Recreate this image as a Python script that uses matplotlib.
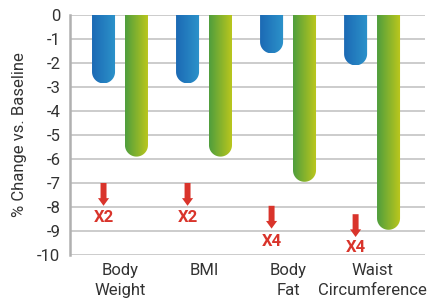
import numpy as np
import matplotlib.pyplot as plt
from matplotlib.path import Path
from matplotlib.patches import PathPatch
from matplotlib.colors import LinearSegmentedColormap

plt.rcParams['font.family'] = ['Roboto', 'DejaVu Sans']

categories = ['Body\nWeight', 'BMI', 'Body\nFat', 'Waist\nCircumference']
blue_vals = [-2.85, -2.85, -1.6, -2.1]
green_vals = [-5.9, -5.9, -6.95, -8.95]

# red "X" markers under each group
marker_labels = ['X2', 'X2', 'X4', 'X4']
marker_top = [-7.0, -7.0, -7.95, -8.3]
marker_tip = [-7.95, -7.95, -8.9, -9.25]
marker_text_y = [-8.45, -8.45, -9.45, -9.7]

blue_cmap = LinearSegmentedColormap.from_list('b', ['#1c6ab4', '#2c93cb'])
green_cmap = LinearSegmentedColormap.from_list('g', ['#4f9e3d', '#bec81c'])
red = '#d9342b'
text_col = '#333333'

fig = plt.figure(figsize=(4.41, 3.0), dpi=100)
ax = fig.add_axes([70 / 441, 45 / 300, 355 / 441, 240 / 300])
ax.set_xlim(-0.595, 3.63)
ax.set_ylim(-10, 0)

x = np.arange(len(categories))
offset = 0.196
width = 0.274

# ratio to keep the rounded bottom circular
fig.canvas.draw()
p0 = ax.transData.transform((0, 0))
p1 = ax.transData.transform((1, 1))
px_x = p1[0] - p0[0]
px_y = p1[1] - p0[1]


def rounded_bar(xc, val, cmap):
    rx = width / 2
    ry = rx * px_x / px_y
    x0, x1 = xc - rx, xc + rx
    t = np.linspace(np.pi, 2 * np.pi, 40)
    arc = np.column_stack([xc + rx * np.cos(t), val + ry + ry * np.sin(t)])
    verts = np.vstack([[x0, 0.5], [x0, val + ry], arc, [x1, 0.5], [x0, 0.5]])
    path = Path(verts, closed=True)
    patch = PathPatch(path, facecolor='none', edgecolor='none')
    ax.add_patch(patch)
    grad = np.linspace(0, 1, 64).reshape(1, -1)
    im = ax.imshow(grad, cmap=cmap, extent=[x0, x1, val, 0.5], aspect='auto',
                   zorder=2, interpolation='bicubic')
    im.set_clip_path(patch)


for i in range(len(categories)):
    rounded_bar(x[i] - offset, blue_vals[i], blue_cmap)
    rounded_bar(x[i] + offset, green_vals[i], green_cmap)
    ax.annotate('', xy=(x[i] - offset, marker_tip[i]), xytext=(x[i] - offset, marker_top[i]),
                arrowprops=dict(width=4.3, headwidth=8, headlength=5.5, shrink=0,
                                color=red, lw=0), zorder=3)
    ax.text(x[i] - offset, marker_text_y[i], marker_labels[i], color=red,
            fontsize=12, fontweight='bold', ha='center', va='center', zorder=3)

ax.set_xlim(-0.595, 3.63)
ax.set_ylim(-10, 0)
ax.set_yticks(np.arange(-10, 1, 1))
ax.set_yticklabels([str(v) for v in range(-10, 1)])
ax.set_xticks(x)
ax.set_xticklabels(categories, linespacing=1.38)
ax.tick_params(axis='both', length=0, labelsize=12, colors=text_col)
ax.tick_params(axis='y', pad=7)
ax.tick_params(axis='x', pad=6)
ax.yaxis.grid(True, color='#c8c8c8', lw=1.3)
ax.set_axisbelow(True)
for s in ['top', 'right', 'bottom']:
    ax.spines[s].set_visible(False)
ax.spines['left'].set_color('#b0b0b0')
ax.spines['left'].set_linewidth(1.8)
ax.set_ylabel('% Change vs. Baseline', fontsize=12, color=text_col, labelpad=7)

fig.savefig('out.png', dpi=100)
